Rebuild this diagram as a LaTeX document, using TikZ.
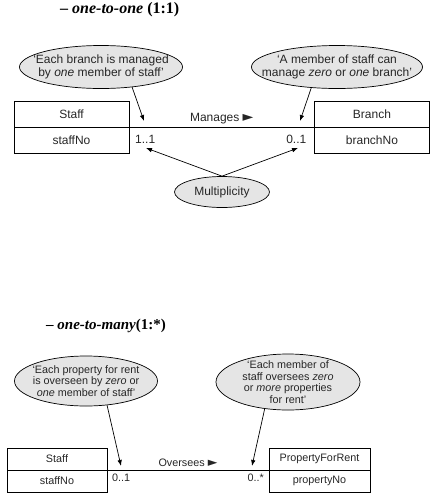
\documentclass[tikz,border=0pt]{standalone}
\usepackage{fontspec}
\setmainfont{Liberation Serif}
\setsansfont{Liberation Sans}
\newfontfamily\symfont{DejaVu Sans}
\usepackage{tikz}
\usetikzlibrary{
	arrows.meta,									% 箭头样式
	positioning,									% 节点的相对摆放
	shapes.geometric,								% 椭圆
}

\begin{document}
\begin{tikzpicture}[x=1pt, y=-1pt,
		title/.style={inner sep=0pt, anchor=west, font=\bfseries\fontsize{16}{18}\selectfont},
		note/.style={ellipse, draw, fill=gray!20, line width=0.7pt, inner sep=0pt},
		notetext/.style={inner sep=0pt, align=center, text=black!85, font=\sffamily\fontsize{12}{13}\selectfont},
		notetextsm/.style={inner sep=0pt, align=center, text=black!85, font=\sffamily\fontsize{10.8}{11.5}\selectfont},
		entity/.style={draw, line width=0.7pt, outer sep=0pt, inner sep=0pt, text=black!85, font=\sffamily\fontsize{12}{13}\selectfont},
		entitysm/.style={entity, font=\sffamily\fontsize{10.8}{11.5}\selectfont},
		assoc/.style={line width=0.7pt},
		link/.style={line width=0.7pt, -{Latex[length=6pt,width=4.5pt]}},
		mult/.style={inner sep=0pt, text=black!85, font=\sffamily\fontsize{12}{13}\selectfont},
		multsm/.style={mult, font=\sffamily\fontsize{10.8}{11.5}\selectfont},
	]
	\useasboundingbox (0,0) rectangle (431,499);

	% one-to-one
	\node[title] (title1) at (60,10) {– \textit{one-to-one} (1:1)};
	\node[note, minimum width=163pt, minimum height=43pt,
		label={[notetext]center:‘Each branch is managed\\by \textit{one} member of staff’}] (ell1) at (101,67) {};
	\node[note, minimum width=171pt, minimum height=43pt,
		label={[notetext]center:‘A member of staff can\\manage \textit{zero} or \textit{one} branch’}] (ell2) at (337,67) {};
	\node[entity, minimum width=115pt, minimum height=26pt] (staff1) at (71.5,114) {Staff};
	\node[entity, minimum width=115pt, minimum height=26pt, below=0pt of staff1] (staffno1) {staffNo};
	\node[entity, minimum width=115pt, minimum height=26pt] (branch1) at (372,114) {Branch};
	\node[entity, minimum width=115pt, minimum height=26pt, below=0pt of branch1] (branchno1) {branchNo};
	\draw[assoc] (staff1.south east) -- node[mult, above=3pt] (manages) {Manages {\symfont\fontsize{14}{13}\selectfont ►}} (branch1.south west);
	\node[mult, anchor=west] (m11) at ([xshift=6pt,yshift=1pt]staffno1.east) {1..1};
	\node[mult, anchor=east] (m01) at ([xshift=-8pt,yshift=1pt]branchno1.west) {0..1};
	\coordinate (tip1) at (144,121);
	\coordinate (tip2) at (300,121);
	\draw[link] (ell1.-33) -- (tip1);
	\draw[link] (ell2.-141) -- (tip2);
	\node[note, minimum width=95pt, minimum height=31pt,
		label={[notetext]center:Multiplicity}] (multi) at (222,192) {};
	\coordinate (tip3) at (146,148);
	\coordinate (tip4) at (298,148);
	\draw[link] (multi.north) -- (tip3);
	\draw[link] (multi.north) -- (tip4);

	% one-to-many
	\node[title, font=\bfseries\fontsize{15}{17}\selectfont] (title2) at (46,326) {– \textit{one-to-many}(1:*)};
	\node[note, minimum width=143pt, minimum height=50pt,
		label={[notetextsm]center:‘Each property for rent\\is overseen by \textit{zero} or\\\textit{one} member of staff’}] (ell3) at (86,381) {};
	\node[note, minimum width=144pt, minimum height=56pt,
		label={[notetextsm]center:‘Each member of\\staff oversees \textit{zero}\\or \textit{more} properties\\for rent’}] (ell4) at (288,382) {};
	\node[entitysm, minimum width=100pt, minimum height=22pt] (staff2) at (57,459) {Staff};
	\node[entitysm, minimum width=100pt, minimum height=22pt, below=0pt of staff2] (staffno2) {staffNo};
	\node[entitysm, minimum width=101pt, minimum height=22pt] (prop) at (319.5,459) {PropertyForRent};
	\node[entitysm, minimum width=101pt, minimum height=22pt, below=0pt of prop] (propno) {propertyNo};
	\draw[assoc] (staff2.south east) -- node[multsm, above=3pt] (oversees) {Oversees {\symfont\fontsize{12.5}{11.5}\selectfont ►}} (prop.south west);
	\node[multsm, anchor=west] (m01b) at ([xshift=5pt,yshift=3pt]staffno2.east) {0..1};
	\node[multsm, anchor=east] (m0s) at ([xshift=-5pt,yshift=3pt]propno.west) {0..*};
	\coordinate (tip5) at (121,466);
	\coordinate (tip6) at (252,466);
	\draw[link] (ell3.-49) -- (tip5);
	\draw[link] (ell4.-131) -- (tip6);
\end{tikzpicture}
\end{document}
